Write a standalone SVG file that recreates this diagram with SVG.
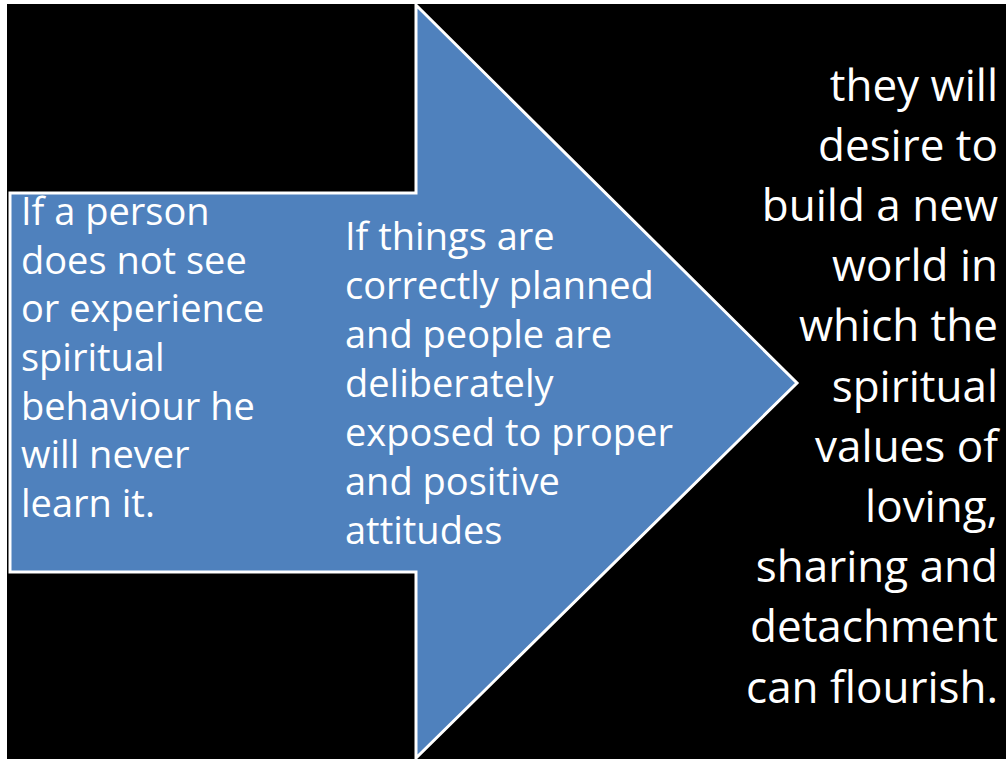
<svg xmlns="http://www.w3.org/2000/svg" width="1006" height="759" viewBox="0 0 1006 759">
<style>
.t{font-family:"Open Sans","Liberation Sans",sans-serif;fill:#ffffff}
.in{font-size:38px}
.out{font-size:44px;text-anchor:end}
</style>
<rect x="0" y="0" width="1006" height="759" fill="#ffffff"/>
<rect x="7" y="4" width="999" height="755" fill="#000000"/>
<g id="arrow">
<polygon points="10,193 416,193 416,5 797,383 416,758 416,572 10,572" fill="#4F81BD" stroke="#ffffff" stroke-width="3" stroke-linejoin="miter"/>
</g>
<g id="node-left">
<text class="t in" x="21" y="225">If a person</text>
<text class="t in" x="21" y="274">does not see</text>
<text class="t in" x="21" y="322">or experience</text>
<text class="t in" x="21" y="371">spiritual</text>
<text class="t in" x="21" y="420">behaviour he</text>
<text class="t in" x="21" y="468">will never</text>
<text class="t in" x="21" y="517">learn it.</text>
</g>
<g id="node-middle">
<text class="t in" x="345" y="250">If things are</text>
<text class="t in" x="345" y="299">correctly planned</text>
<text class="t in" x="345" y="348">and people are</text>
<text class="t in" x="345" y="397">deliberately</text>
<text class="t in" x="345" y="446">exposed to proper</text>
<text class="t in" x="345" y="495">and positive</text>
<text class="t in" x="345" y="544">attitudes</text>
</g>
<g id="node-right">
<text class="t out" x="998" y="101">they will</text>
<text class="t out" x="998" y="161">desire to</text>
<text class="t out" x="998" y="221">build a new</text>
<text class="t out" x="998" y="281">world in</text>
<text class="t out" x="998" y="341">which the</text>
<text class="t out" x="998" y="402">spiritual</text>
<text class="t out" x="998" y="462">values of</text>
<text class="t out" x="998" y="522">loving,</text>
<text class="t out" x="998" y="582">sharing and</text>
<text class="t out" x="998" y="642">detachment</text>
<text class="t out" x="998" y="703">can flourish.</text>
</g>
<g id="connectors"></g>
</svg>
